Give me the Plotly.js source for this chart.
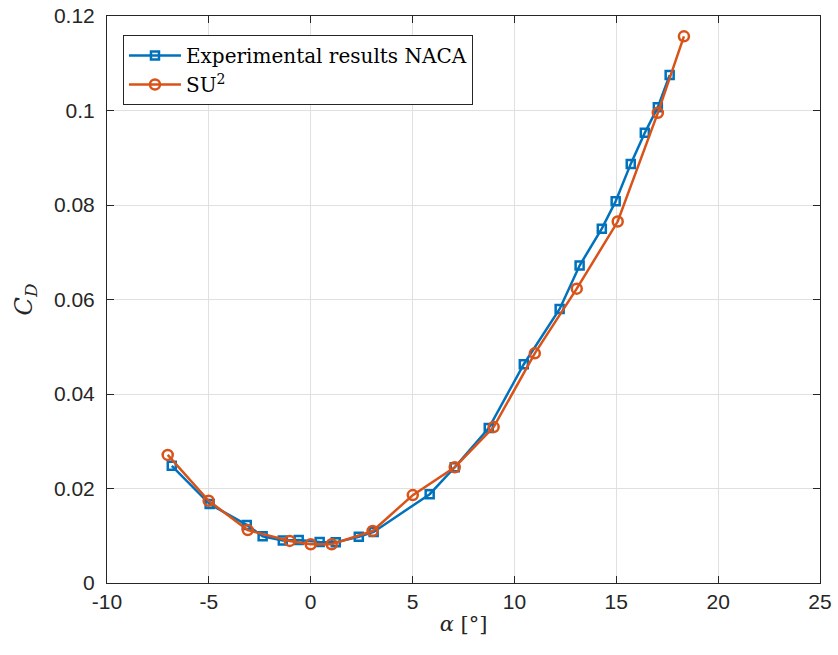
<!DOCTYPE html>
<html>
<head>
<meta charset="utf-8">
<script src="https://cdn.plot.ly/plotly-3.0.1.min.js"></script>
<style>html,body{margin:0;padding:0;background:#fff;}#chart{width:838px;height:655px;}</style>
</head>
<body>
<div id="chart"></div>
<script>
// Experimental results NACA
const expAlpha = [-6.82, -4.96, -3.14, -2.36, -1.37, -0.59, 0.44, 1.23, 2.36, 3.09, 5.84, 7.07, 8.74, 10.46, 12.22, 13.2, 14.29, 14.97, 15.71, 16.4, 17.04, 17.62];
const expCD    = [0.0248, 0.0167, 0.0123, 0.0099, 0.0090, 0.0091, 0.0087, 0.0086, 0.0098, 0.0108, 0.0188, 0.0245, 0.0328, 0.0463, 0.0580, 0.0672, 0.0750, 0.0808, 0.0887, 0.0953, 0.1007, 0.1075];
// SU2
const suAlpha = [-7.02, -5.01, -3.09, -1.03, 0.0, 1.03, 3.04, 5.01, 7.07, 8.98, 11.0, 13.06, 15.07, 17.04, 18.32];
const suCD    = [0.0271, 0.0174, 0.0112, 0.0089, 0.0082, 0.0082, 0.0110, 0.0186, 0.0245, 0.0330, 0.0486, 0.0623, 0.0765, 0.0995, 0.1157];

const xTickVals = [-10, -5, 0, 5, 10, 15, 20, 25];
const xTickText = ['-10', '-5', '0', '5', '10', '15', '20', '25'];
const yTickVals = [0, 0.02, 0.04, 0.06, 0.08, 0.1, 0.12];
const yTickText = ['0', '0.02', '0.04', '0.06', '0.08', '0.1', '0.12'];

const blue = '#0072BD', orange = '#D95319';
const traces = [
  {x: expAlpha, y: expCD, type: 'scatter', mode: 'lines+markers', name: 'Experimental results NACA',
   line: {color: blue, width: 2.5},
   marker: {symbol: 'square-open', size: 8, color: blue, line: {width: 2.5, color: blue}}},
  {x: suAlpha, y: suCD, type: 'scatter', mode: 'lines+markers', name: 'SU<sup>2</sup>',
   line: {color: orange, width: 2.5},
   marker: {symbol: 'circle-open', size: 10, color: orange, line: {width: 2.5, color: orange}}}
];

const axisCommon = {
  showline: true, linecolor: '#262626', linewidth: 1, mirror: 'ticks',
  ticks: 'inside', ticklen: 7, tickcolor: '#262626', tickwidth: 1,
  showgrid: true, gridcolor: '#e0e0e0', gridwidth: 1, zeroline: false,
  tickfont: {family: 'Liberation Sans, Arial, sans-serif', size: 21, color: '#262626'}
};

const layout = {
  width: 838, height: 655,
  margin: {l: 107, r: 18, t: 16, b: 72},
  paper_bgcolor: '#fff', plot_bgcolor: '#fff',
  showlegend: true,
  xaxis: Object.assign({}, axisCommon, {
    range: [-10, 25], tickmode: 'array', tickvals: xTickVals, ticktext: xTickText,
    title: {text: '<i>α</i> [°]', font: {family: 'DejaVu Serif, serif', size: 21, color: '#262626'}, standoff: 4}
  }),
  yaxis: Object.assign({}, axisCommon, {
    range: [0, 0.12], tickmode: 'array', tickvals: yTickVals, ticktext: yTickText,
    ticklabelstandoff: 7,
    title: {text: '<i>C</i><sub><i>D</i></sub>', font: {family: 'DejaVu Serif, serif', size: 24, color: '#262626'}, standoff: 14}
  }),
  legend: {
    x: 0.0224, y: 0.9665, xanchor: 'left', yanchor: 'top',
    bgcolor: '#fff', bordercolor: '#262626', borderwidth: 1,
    font: {family: 'DejaVu Serif, serif', size: 20, color: '#000'},
    tracegroupgap: 0, itemwidth: 52
  }
};

Plotly.newPlot('chart', traces, layout, {displayModeBar: false, staticPlot: true});
</script>
</body>
</html>
